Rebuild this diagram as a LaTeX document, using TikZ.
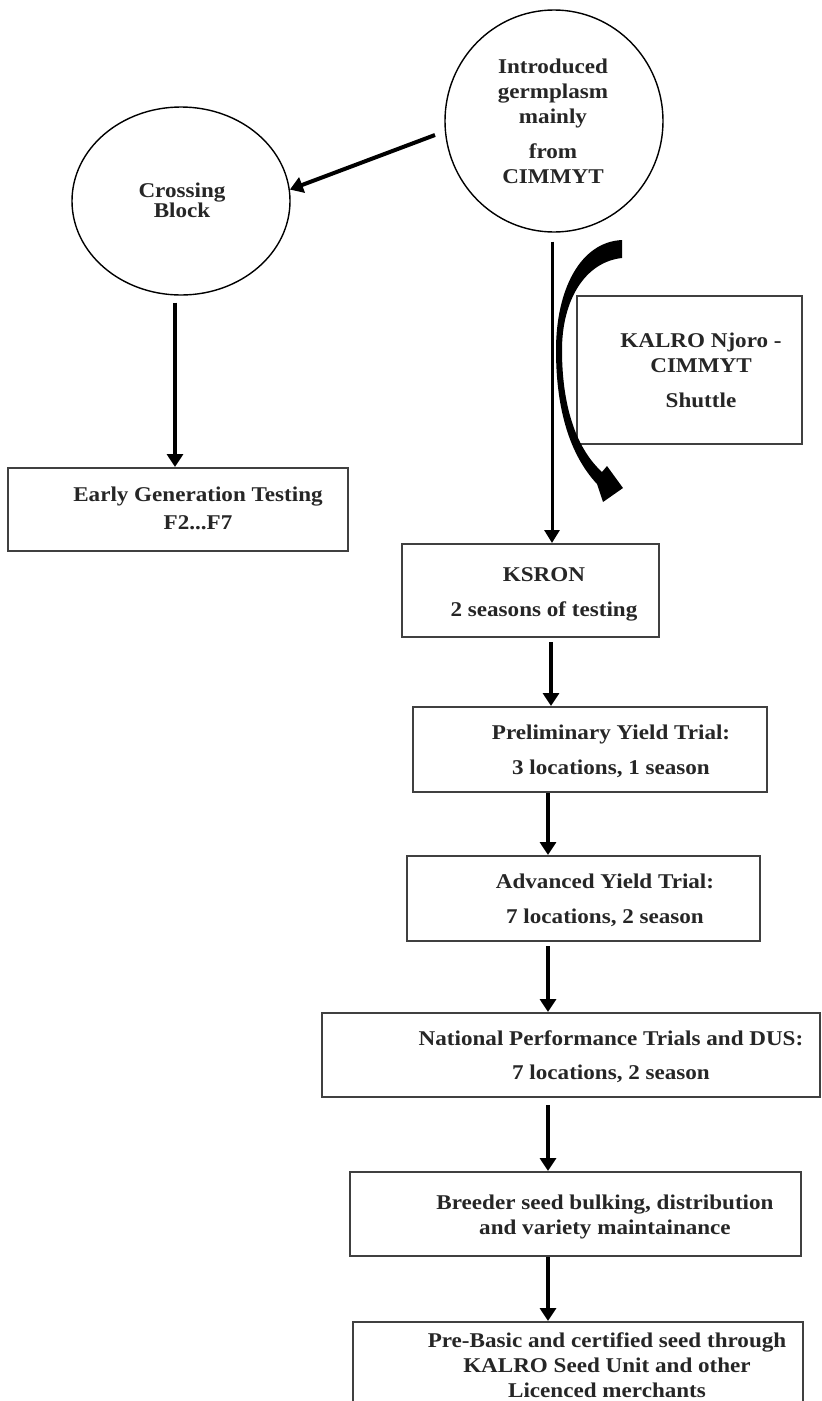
\documentclass[tikz,border=0pt]{standalone}
\usepackage{fontspec}
\setmainfont{Liberation Serif}[FakeStretch=1.1]
\usetikzlibrary{arrows.meta,shapes.geometric,calc}
\begin{document}
\begin{tikzpicture}[x=1pt,y=-1pt,
  box/.style={draw=black!75, line width=2pt, rectangle, inner sep=0pt},
  circ/.style={draw=black, line width=1.4pt, ellipse, inner sep=0pt},
  txt/.style={font=\fontsize{21}{25}\selectfont\bfseries, text=black!85, align=center, inner sep=0pt, anchor=north},
  arr/.style={line width=4pt, -{Triangle[length=13pt,width=16pt]}},
  thinarr/.style={line width=3pt, -{Triangle[length=13pt,width=15pt]}}]
\useasboundingbox (0,0) rectangle (822,1401);
\clip (0,0) rectangle (822,1401);
\fill[white] (0,0) rectangle (822,1401);

% circles
\node[circ, minimum width=218pt, minimum height=222pt] (intro) at (554,121) {};
\node[circ, minimum width=218pt, minimum height=188pt] (cross) at (181,201) {};

% boxes
\node[box, minimum width=225pt, minimum height=148pt] (kalro) at (689.5,370) {};
\node[box, minimum width=340pt, minimum height=83pt] (early) at (178,509.5) {};
\node[box, minimum width=257pt, minimum height=93pt] (ksron) at (530.5,590.5) {};
\node[box, minimum width=354pt, minimum height=85pt] (pyt) at (590,749.5) {};
\node[box, minimum width=353pt, minimum height=85pt] (ayt) at (583.5,898.5) {};
\node[box, minimum width=498pt, minimum height=84pt] (npt) at (571,1055) {};
\node[box, minimum width=451pt, minimum height=84pt] (breeder) at (575.5,1214) {};
\node[box, minimum width=450pt, minimum height=100pt] (prebasic) at (578,1372) {};

% texts
\node[txt] (introT) at (553,58.5) {Introduced\\germplasm\\mainly\\[10pt]from\\CIMMYT};
\node[txt] (crossT) at (182,182.5) {Crossing\\[-5pt]Block};
\node[txt] (kalroT) at (701,332.5) {KALRO Njoro -\\CIMMYT\\[10pt]Shuttle};
\node[txt] (earlyT) at (198,487) {Early Generation Testing\\[3pt]F2...F7};
\node[txt] (ksronT) at (544,567.5) {KSRON\\[10pt]2 seasons of testing};
\node[txt] (pytT) at (611,724.5) {Preliminary Yield Trial:\\[10pt]3 locations, 1 season};
\node[txt] (aytT) at (605,873.5) {Advanced Yield Trial:\\[10pt]7 locations, 2 season};
\node[txt] (nptT) at (611,1030.5) {National Performance Trials and DUS:\\[9pt]7 locations, 2 season};
\node[txt] (breederT) at (605,1194.5) {Breeder seed bulking, distribution\\and variety maintainance};
\node[txt] (prebasicT) at (607,1332.5) {Pre-Basic and certified seed through\\KALRO Seed Unit and other\\Licenced merchants};

% reference x positions for vertical connectors
\coordinate (xe) at (175,0);
\coordinate (xi) at (552,0);
\coordinate (xk) at (551,0);
\coordinate (xm) at (548,0);
\coordinate (s1) at (435,135);

% connectors
\draw[arr] (s1) -- (cross.6);
\draw[arr] ([yshift=-7pt]cross.south -| xe) -- (early.north -| xe);
\draw[thinarr] ([yshift=-9pt]intro.south -| xi) -- (ksron.north -| xi);
\draw[arr] ([yshift=-4pt]ksron.south -| xk) -- (pyt.north -| xk);
\draw[arr] (pyt.south -| xm) -- (ayt.north -| xm);
\draw[arr] ([yshift=-4pt]ayt.south -| xm) -- (npt.north -| xm);
\draw[arr] ([yshift=-7pt]npt.south -| xm) -- (breeder.north -| xm);
\draw[arr] (breeder.south -| xm) -- (prebasic.north -| xm);

% curved shuttle arrow
\fill[black] (622,240) .. controls (580,242) and (556,290) .. (556,350)
  .. controls (556,410) and (570,455) .. (597,484)
  -- (603,502) -- (623,488) -- (607,466) -- (602,472)
  .. controls (578,450) and (562,410) .. (562,350)
  .. controls (562,300) and (585,262) .. (622,258) -- cycle;
\end{tikzpicture}
\end{document}
